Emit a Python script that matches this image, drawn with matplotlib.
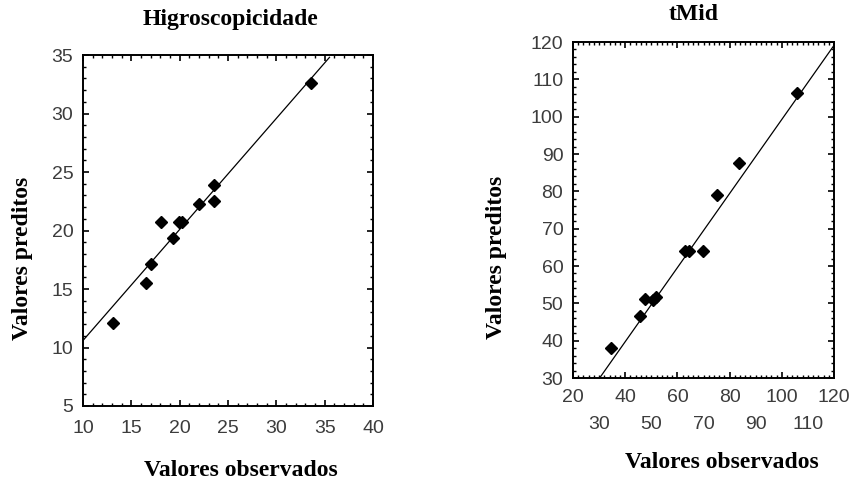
import matplotlib
matplotlib.use("Agg")
import matplotlib.pyplot as plt
from matplotlib.ticker import MultipleLocator, FuncFormatter

# Left panel: Higroscopicidade
hig_obs = [13.1, 16.5, 17.0, 18.1, 19.3, 19.9, 20.2, 22.0, 23.6, 23.6, 33.6]
hig_pred = [12.1, 15.5, 17.1, 20.7, 19.4, 20.7, 20.7, 22.3, 23.9, 22.5, 32.6]
hig_line_x = [10.0, 35.5]
hig_line_y = [10.6, 34.8]
hig_xticks = [10, 15, 20, 25, 30, 35, 40]
hig_yticks = [5, 10, 15, 20, 25, 30, 35]

# Right panel: tMid
tmid_obs = [34.4, 45.8, 47.5, 50.6, 51.7, 63.1, 64.3, 69.8, 75.3, 83.6, 106.0]
tmid_pred = [38.1, 46.6, 51.1, 50.8, 51.7, 64.0, 64.0, 63.9, 78.9, 87.6, 106.4]
tmid_line_x = [30.2, 120.0]
tmid_line_y = [30.0, 119.1]
tmid_xticks_top = [20, 40, 60, 80, 100, 120]
tmid_xticks_bottom = [30, 50, 70, 90, 110]
tmid_yticks = [30, 40, 50, 60, 70, 80, 90, 100, 110, 120]

W, H = 851, 486
fig = plt.figure(figsize=(W / 100, H / 100), dpi=100)
serif = ["Liberation Serif", "DejaVu Serif"]
sans = ["Liberation Sans", "DejaVu Sans"]
tick_color = "#3c3c3c"
TS = 14
LS = 17


def px(x, y):
    return x / W, 1 - y / H


def style(ax):
    for s in ax.spines.values():
        s.set_linewidth(1.4)
        s.set_color("black")
    ax.tick_params(which="both", direction="in", top=True, right=True,
                   color="black", labelcolor=tick_color, labelsize=TS)
    ax.tick_params(which="major", length=4, width=1.2)
    ax.tick_params(which="minor", length=2, width=1.0)
    ax.tick_params(axis="y", pad=7)


ax1 = fig.add_axes([83 / W, 1 - 406 / H, 290 / W, 351 / H])
ax1.plot(hig_line_x, hig_line_y, color="black", lw=0.9)
ax1.plot(hig_obs, hig_pred, ls="none", marker="D", ms=6.5, color="black")
ax1.set_xlim(10, 40)
ax1.set_ylim(5, 35)
ax1.set_xticks(hig_xticks)
ax1.set_yticks(hig_yticks)
ax1.xaxis.set_minor_locator(MultipleLocator(1))
ax1.yaxis.set_minor_locator(MultipleLocator(1))
style(ax1)
ax1.tick_params(axis="x", pad=10)

ax2 = fig.add_axes([573 / W, 1 - 378 / H, 261 / W, 336 / H])
ax2.plot(tmid_line_x, tmid_line_y, color="black", lw=0.9)
ax2.plot(tmid_obs, tmid_pred, ls="none", marker="D", ms=6.5, color="black")
ax2.set_xlim(20, 120)
ax2.set_ylim(30, 120)
ax2.set_xticks(tmid_xticks_top)
ax2.xaxis.set_minor_locator(MultipleLocator(2))
ax2.xaxis.set_minor_formatter(FuncFormatter(
    lambda v, p: str(int(round(v))) if int(round(v)) in tmid_xticks_bottom else ""))
ax2.set_yticks(tmid_yticks)
ax2.yaxis.set_minor_locator(MultipleLocator(2))
style(ax2)
ax2.tick_params(axis="x", which="major", pad=8)
ax2.tick_params(axis="x", which="minor", pad=27)

for ax in (ax1, ax2):
    for lab in (ax.get_xticklabels() + ax.get_yticklabels()
                + ax.get_xticklabels(minor=True)):
        lab.set_fontfamily(sans)

txt = dict(fontfamily=serif, fontweight="bold", fontsize=LS,
           ha="center", va="center")
fig.text(*px(230, 20), "Higroscopicidade", **txt)
fig.text(*px(694, 15), "tMid", **txt)
fig.text(*px(241, 470), "Valores observados", **txt)
fig.text(*px(722, 462), "Valores observados", **txt)
fig.text(*px(23, 258), "Valores preditos", rotation=90, **txt)
fig.text(*px(496, 257), "Valores preditos", rotation=90, **txt)

fig.savefig("out.png", dpi=100)
